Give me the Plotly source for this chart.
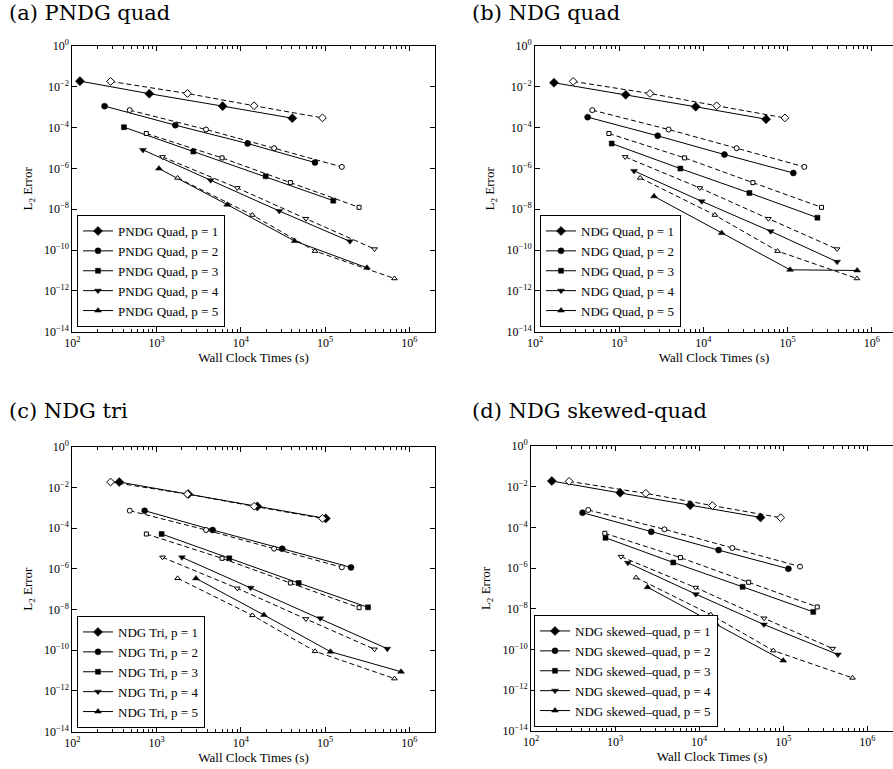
import plotly.graph_objects as go

# ---------------- data ----------------
P_ORDERS = [1, 2, 3, 4, 5]
SYMBOLS = ["diamond", "circle", "square", "triangle-down", "triangle-up"]
SIZES = [8, 7, 6, 7, 7]

# dashed reference series (open markers), identical in all four panels
ref_time = [
    [284, 2320, 14350, 93000],
    [479, 3860, 24800, 158000],
    [755, 5980, 38700, 253000],
    [1175, 9060, 59200, 386000],
    [1775, 13700, 76000, 665000],
]
ref_err = [
    [1.84e-2, 4.7e-3, 1.18e-3, 3.0e-4],
    [7.2e-4, 8.1e-5, 9.8e-6, 1.19e-6],
    [5.15e-5, 3.29e-6, 2.02e-7, 1.24e-8],
    [3.68e-6, 1.11e-7, 3.45e-9, 1.12e-10],
    [3.43e-7, 5.2e-9, 8.9e-11, 4.06e-12],
]

pndg_quad_time = [
    [123, 818, 6080, 40800],
    [241, 1667, 12030, 75800],
    [409, 2725, 19700, 125000],
    [688, 4375, 28600, 197000],
    [1066, 6900, 43500, 314000],
]
pndg_quad_err = [
    [1.9e-2, 4.6e-3, 1.13e-3, 2.9e-4],
    [1.13e-3, 1.32e-4, 1.66e-5, 1.94e-6],
    [1.05e-4, 6.7e-6, 4.1e-7, 2.64e-8],
    [8.1e-6, 2.64e-7, 8.2e-9, 2.67e-10],
    [9.8e-7, 1.68e-8, 2.77e-10, 1.36e-11],
]

ndg_quad_time = [
    [168, 1195, 8110, 55500],
    [422, 2866, 17780, 117000],
    [815, 5330, 35200, 226000],
    [1500, 9550, 63100, 387000],
    [2594, 16500, 107000, 670000],
]
ndg_quad_err = [
    [1.58e-2, 4.07e-3, 1.05e-3, 2.6e-4],
    [3.27e-4, 3.96e-5, 4.8e-6, 6.0e-7],
    [1.66e-5, 9.8e-7, 6.3e-8, 3.87e-9],
    [7.6e-7, 2.45e-8, 8.3e-10, 2.67e-11],
    [4.3e-8, 6.8e-10, 1.08e-11, 1.0e-11],
]

ndg_tri_time = [
    [360, 2370, 15700, 102000],
    [721, 4620, 31000, 203000],
    [1146, 7290, 48500, 323000],
    [2000, 13060, 87700, 547000],
    [2930, 18800, 116000, 796000],
]
ndg_tri_err = [
    [1.84e-2, 4.7e-3, 1.17e-3, 3.0e-4],
    [7.2e-4, 8.1e-5, 9.75e-6, 1.18e-6],
    [5.13e-5, 3.27e-6, 2.01e-7, 1.28e-8],
    [3.66e-6, 1.18e-7, 3.69e-9, 1.19e-10],
    [3.4e-7, 5.4e-9, 8.5e-11, 8.85e-12],
]

ndg_skew_time = [
    [177, 1149, 7820, 53600],
    [410, 2690, 17000, 115000],
    [769, 4910, 32800, 227000],
    [1419, 9130, 58800, 446000],
    [2430, 15800, 99800],
]
ndg_skew_err = [
    [1.9e-2, 5.07e-3, 1.25e-3, 3.1e-4],
    [5.3e-4, 6.1e-5, 7.7e-6, 9.3e-7],
    [3.1e-5, 1.9e-6, 1.21e-7, 7.1e-9],
    [1.83e-6, 5.26e-8, 1.7e-9, 5.7e-11],
    [1.16e-7, 1.83e-9, 2.88e-11],
]

panel_titles = ["(a) PNDG quad", "(b) NDG quad", "(c) NDG tri", "(d) NDG skewed-quad"]
legend_labels = ["PNDG Quad", "NDG Quad", "NDG Tri", "NDG skewed\u2013quad"]

X_TICK_VALS = [1e2, 1e3, 1e4, 1e5, 1e6]
X_TICK_TEXT = ["10<sup>2</sup>", "10<sup>3</sup>", "10<sup>4</sup>", "10<sup>5</sup>", "10<sup>6</sup>"]
Y_TICK_VALS = [1e0, 1e-2, 1e-4, 1e-6, 1e-8, 1e-10, 1e-12, 1e-14]
Y_TICK_TEXT = ["10<sup>0</sup>", "10<sup>\u22122</sup>", "10<sup>\u22124</sup>", "10<sup>\u22126</sup>",
               "10<sup>\u22128</sup>", "10<sup>\u221210</sup>", "10<sup>\u221212</sup>", "10<sup>\u221214</sup>"]

# ---------------- layout geometry (pixels of the 893x769 page) ----------------
W, H = 893, 769
SERIF = "Liberation Serif"
panels = [
    dict(time=pndg_quad_time, err=pndg_quad_err, left=72.4, right=434.7, top=46, bottom=331.7,
         xr=[2, 6.301], leg=(77, 327), title=(8, 0)),
    dict(time=ndg_quad_time, err=ndg_quad_err, left=535, right=893, top=46, bottom=331.7,
         xr=[2, 2 + (893 - 535) / 84.2], leg=(540, 327), title=(471, 0)),
    dict(time=ndg_tri_time, err=ndg_tri_err, left=72.4, right=434.7, top=446.7, bottom=731.7,
         xr=[2, 6.301], leg=(77, 728), title=(8, 398)),
    dict(time=ndg_skew_time, err=ndg_skew_err, left=531, right=893, top=446, bottom=731,
         xr=[2, 2 + (893 - 531) / 84.1], leg=(534, 727), title=(471, 398)),
]

minor_vals = [m * 10 ** e for e in range(2, 7) for m in range(2, 10)]

fig = go.Figure()
layout = dict(width=W, height=H, margin=dict(l=0, r=0, t=0, b=0, autoexpand=False),
              paper_bgcolor="white", plot_bgcolor="white", showlegend=True,
              annotations=[])

for i, pn in enumerate(panels):
    k = "" if i == 0 else str(i + 1)
    xname, yname = "x" + k, "y" + k
    legname = "legend" + k
    for j, p in enumerate(P_ORDERS):
        fig.add_trace(go.Scatter(
            x=pn["time"][j], y=pn["err"][j], mode="lines+markers",
            name=f"{legend_labels[i]}, p = {p}",
            line=dict(color="black", width=1, dash="solid"),
            marker=dict(symbol=SYMBOLS[j], size=SIZES[j] - 1, color="black",
                        line=dict(color="black", width=0.5)),
            xaxis=xname, yaxis=yname, legend=legname, showlegend=True))
    for j, p in enumerate(P_ORDERS):
        fig.add_trace(go.Scatter(
            x=ref_time[j], y=ref_err[j], mode="lines+markers",
            line=dict(color="black", width=1, dash="5px,3px"),
            marker=dict(symbol=SYMBOLS[j], size=SIZES[j] - 2, color="white",
                        line=dict(color="black", width=1)),
            xaxis=xname, yaxis=yname, showlegend=False, hoverinfo="skip"))

    right_edge = pn["right"] >= W - 0.5
    layout["xaxis" + k] = dict(
        type="log", range=pn["xr"], domain=[pn["left"] / W, min(pn["right"] / W, 1.0)],
        anchor=yname, showline=True, linecolor="black", linewidth=1, mirror="allticks",
        ticks="inside", ticklen=5, tickcolor="black", tickwidth=1,
        tickmode="array", tickvals=X_TICK_VALS, ticktext=X_TICK_TEXT,
        minor=dict(ticks="inside", ticklen=3, tickcolor="black", tickwidth=1,
                   tickmode="array", tickvals=minor_vals, showgrid=False),
        showgrid=False, zeroline=False, automargin=False,
        tickfont=dict(family=SERIF, size=12, color="black"),
        title=dict(text="Wall Clock Times (s)", font=dict(family=SERIF, size=13, color="black"),
                   standoff=2))
    layout["yaxis" + k] = dict(
        type="log", range=[-14, 0], domain=[1 - pn["bottom"] / H, 1 - pn["top"] / H],
        anchor=xname, showline=True, linecolor="black", linewidth=1,
        mirror=False if right_edge else "allticks",
        ticks="inside", ticklen=5, tickcolor="black", tickwidth=1,
        tickmode="array", tickvals=Y_TICK_VALS, ticktext=Y_TICK_TEXT,
        showgrid=False, zeroline=False, automargin=False,
        tickfont=dict(family=SERIF, size=12, color="black"),
        title=dict(text="L<sub>2</sub> Error", font=dict(family=SERIF, size=13, color="black"),
                   standoff=8))
    layout[legname] = dict(
        x=pn["leg"][0] / W, y=1 - pn["leg"][1] / H, xanchor="left", yanchor="bottom",
        xref="paper", yref="paper", bgcolor="white", bordercolor="black", borderwidth=1,
        font=dict(family=SERIF, size=13, color="black"), itemwidth=30,
        tracegroupgap=0)
    layout["annotations"].append(dict(
        text=panel_titles[i], x=pn["title"][0] / W, y=1 - pn["title"][1] / H,
        xref="paper", yref="paper", xanchor="left", yanchor="top", showarrow=False,
        font=dict(family="DejaVu Serif", size=21, color="black"), borderpad=0))

fig.update_layout(**layout)
fig.write_html("out.html", post_script="document.body.style.margin='0';document.body.style.padding='0';")
